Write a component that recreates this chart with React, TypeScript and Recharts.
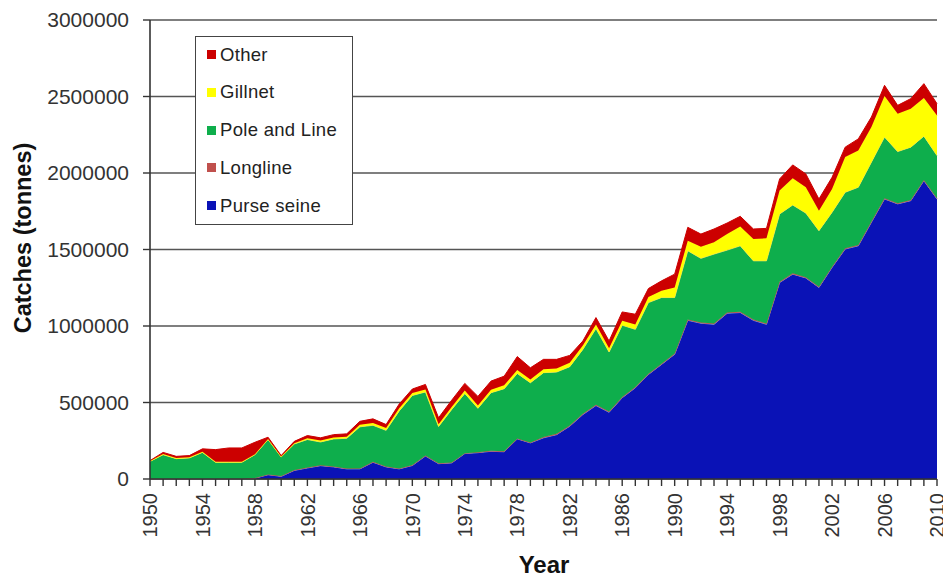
import React from 'react';
import { AreaChart, Area, XAxis, YAxis, CartesianGrid, Legend, Label } from 'recharts';

const years = [
  1950, 1951, 1952, 1953, 1954, 1955, 1956, 1957, 1958, 1959,
  1960, 1961, 1962, 1963, 1964, 1965, 1966, 1967, 1968, 1969,
  1970, 1971, 1972, 1973, 1974, 1975, 1976, 1977, 1978, 1979,
  1980, 1981, 1982, 1983, 1984, 1985, 1986, 1987, 1988, 1989,
  1990, 1991, 1992, 1993, 1994, 1995, 1996, 1997, 1998, 1999,
  2000, 2001, 2002, 2003, 2004, 2005, 2006, 2007, 2008, 2009, 2010,
];

const purseSeine = [
  0, 0, 0, 0, 0, 0, 0, 0, 5000, 28000,
  17000, 56000, 72000, 87000, 79000, 66000, 66000, 109000, 79000, 66000,
  88000, 150000, 100000, 105000, 166000, 172000, 181000, 178000, 262000, 236000,
  269000, 290000, 345000, 421000, 480000, 436000, 531000, 596000, 683000, 749000,
  815000, 1037000, 1018000, 1011000, 1083000, 1088000, 1037000, 1011000, 1284000, 1339000,
  1314000, 1252000, 1383000, 1503000, 1524000, 1678000, 1830000, 1798000, 1819000, 1950000, 1830000,
];

const longline = [
  1000, 1000, 1000, 1000, 1000, 1000, 1000, 1000, 1000, 1000,
  3000, 3000, 3000, 3000, 3000, 3000, 3000, 3000, 3000, 3000,
  3000, 3000, 3000, 3000, 3000, 3000, 3000, 3000, 3000, 3000,
  5000, 5000, 5000, 5000, 5000, 5000, 5000, 5000, 5000, 5000,
  5000, 5000, 5000, 5000, 5000, 5000, 5000, 5000, 5000, 5000,
  5000, 5000, 5000, 5000, 5000, 5000, 5000, 5000, 5000, 5000, 5000,
];

const poleAndLine = [
  114000, 158000, 132000, 137000, 173000, 108000, 108000, 108000, 153000, 229000,
  124000, 170000, 183000, 152000, 180000, 197000, 272000, 239000, 236000, 376000,
  455000, 416000, 240000, 346000, 390000, 287000, 380000, 409000, 425000, 390000,
  421000, 404000, 384000, 421000, 498000, 389000, 469000, 377000, 465000, 432000,
  366000, 450000, 419000, 454000, 408000, 431000, 384000, 410000, 443000, 447000,
  419000, 366000, 355000, 366000, 378000, 388000, 400000, 337000, 345000, 286000, 279000,
];

const gillnet = [
  2000, 4000, 4000, 4000, 4000, 3000, 3000, 3000, 3000, 3000,
  3000, 5000, 8000, 10000, 10000, 10000, 14000, 15000, 15000, 17000,
  16000, 16000, 15000, 16000, 19000, 18000, 20000, 22000, 22000, 21000,
  22000, 23000, 26000, 25000, 27000, 25000, 30000, 32000, 37000, 44000,
  66000, 65000, 76000, 77000, 105000, 127000, 142000, 147000, 153000, 175000,
  169000, 131000, 153000, 230000, 240000, 229000, 268000, 247000, 251000, 249000, 262000,
];

const other = [
  3000, 11000, 11000, 11000, 19000, 80000, 91000, 91000, 78000, 12000,
  6000, 12000, 18000, 17000, 18000, 19000, 22000, 27000, 23000, 28000,
  26000, 33000, 42000, 45000, 47000, 60000, 56000, 60000, 88000, 77000,
  65000, 60000, 48000, 30000, 45000, 47000, 57000, 67000, 55000, 65000,
  87000, 88000, 83000, 87000, 72000, 66000, 66000, 65000, 76000, 87000,
  87000, 76000, 76000, 65000, 76000, 66000, 70000, 55000, 66000, 94000, 77000,
];

const yTicks = [0, 500000, 1000000, 1500000, 2000000, 2500000, 3000000];
const labelEvery = 4;

const series = [
  { key: 'purse', name: 'Purse seine', color: '#0a12b6', stroke: '#6f9ad6' },
  { key: 'longline', name: 'Longline', color: '#c0504d', stroke: '#c0504d' },
  { key: 'pole', name: 'Pole and Line', color: '#0eae4c', stroke: '#d8d870' },
  { key: 'gillnet', name: 'Gillnet', color: '#ffff00', stroke: '#ffff00' },
  { key: 'other', name: 'Other', color: '#cc0000', stroke: '#cc0000' },
];

const data = years.map((year, i) => ({
  year,
  purse: purseSeine[i],
  longline: longline[i],
  pole: poleAndLine[i],
  gillnet: gillnet[i],
  other: other[i],
}));

const FONT = '"Liberation Sans", Arial, Helvetica, sans-serif';

const XTick = (props: any) => {
  const { x, y, payload } = props;
  const yr = payload.value;
  if ((yr - years[0]) % labelEvery !== 0) return <g />;
  const ty = y + 7;
  return (
    <text
      x={x}
      y={ty}
      transform={`rotate(-90, ${x}, ${ty})`}
      textAnchor="end"
      dy="0.36em"
      fontSize={20}
      fill="#333"
      fontFamily={FONT}
    >
      {yr}
    </text>
  );
};

const LegendBox = () => {
  const items = [...series].reverse();
  return (
    <div
      style={{
        width: 158,
        height: 189,
        border: '1px solid #444',
        background: '#fff',
        boxSizing: 'border-box',
        position: 'relative',
        fontFamily: FONT,
      }}
    >
      {items.map((s, i) => (
        <div
          key={s.key}
          style={{
            position: 'absolute',
            left: 11,
            top: 17.5 + i * 37.8 - 11,
            height: 22,
            display: 'flex',
            alignItems: 'center',
            whiteSpace: 'nowrap',
          }}
        >
          <span style={{ width: 9, height: 9, background: s.color, display: 'inline-block', marginRight: 4 }} />
          <span style={{ fontSize: 18.5, color: '#222', letterSpacing: 0.3 }}>{s.name}</span>
        </div>
      ))}
    </div>
  );
};

export default function App() {
  return (
    <div style={{ position: 'absolute', left: 0, top: 0, width: 943, height: 578, background: '#fff' }}>
      <AreaChart
        width={943}
        height={578}
        data={data}
        margin={{ top: 20, right: 6, bottom: 0, left: 0 }}
      >
        <CartesianGrid horizontal vertical={false} stroke="#555" strokeWidth={1.6} />
        <XAxis
          dataKey="year"
          type="number"
          domain={[1950, 2010]}
          ticks={years}
          interval={0}
          height={99}
          tickSize={7}
          tickMargin={0}
          tick={<XTick />}
          axisLine={{ stroke: '#333', strokeWidth: 1.6 }}
          tickLine={{ stroke: '#333', strokeWidth: 1.4 }}
        >
          <Label
            content={() => (
              <text x={544} y={573} textAnchor="middle" fontSize={24} fontWeight="bold" fontFamily={FONT} fill="#111">
                Year
              </text>
            )}
          />
        </XAxis>
        <YAxis
          type="number"
          domain={[0, 3000000]}
          ticks={yTicks}
          width={150}
          tickSize={7}
          tickMargin={14}
          tickFormatter={(v: number) => String(v)}
          tick={{ fontSize: 21, fill: '#333', fontFamily: FONT }}
          axisLine={{ stroke: '#333', strokeWidth: 1.6 }}
          tickLine={{ stroke: '#333', strokeWidth: 1.4 }}
        >
          <Label
            content={() => (
              <text
                x={31}
                y={238}
                transform="rotate(-90, 31, 238)"
                textAnchor="middle"
                fontSize={23.5}
                fontWeight="bold"
                fontFamily={FONT}
                fill="#111"
              >
                Catches (tonnes)
              </text>
            )}
          />
        </YAxis>
        <Legend
          layout="vertical"
          align="center"
          verticalAlign="middle"
          content={<LegendBox />}
          wrapperStyle={{ left: 195, top: 36, width: 158, height: 189 }}
        />
        {series.map((s) => (
          <Area
            key={s.key}
            dataKey={s.key}
            name={s.name}
            stackId="1"
            type="linear"
            fill={s.color}
            fillOpacity={1}
            stroke={s.stroke}
            strokeWidth={1}
            isAnimationActive={false}
            dot={false}
            activeDot={false}
          />
        ))}
      </AreaChart>
    </div>
  );
}
